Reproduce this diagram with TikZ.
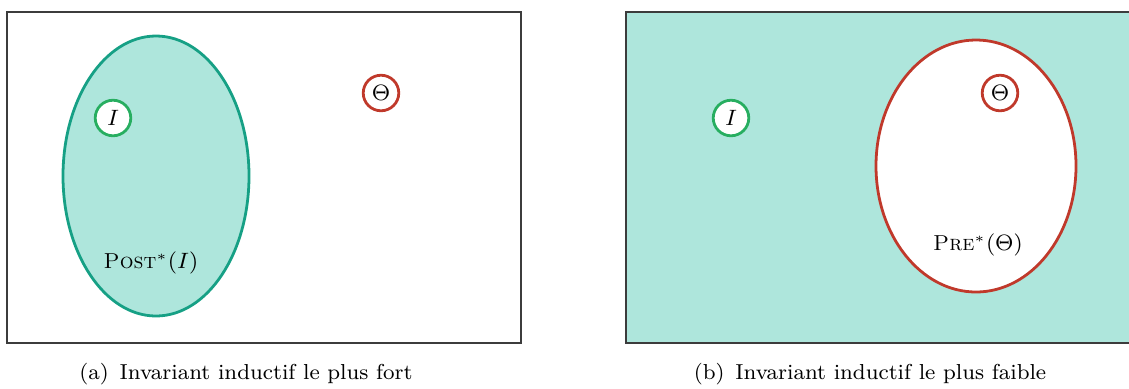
\documentclass[tikz,border=0pt]{standalone}
\definecolor{tealfill}{RGB}{174,230,220}
\definecolor{tealline}{RGB}{22,160,133}
\definecolor{greenline}{RGB}{39,174,96}
\definecolor{redline}{RGB}{192,57,43}
\definecolor{boxline}{RGB}{60,60,60}
\tikzset{
  txt/.style={font=\fontsize{7.8}{9.5}\selectfont},
  setbox/.style={draw=boxline, line width=0.5pt},
  egg/.style={line width=1pt},
  elem/.style={circle, line width=1pt, fill=white, minimum size=12.8pt, inner sep=0pt, font=\fontsize{8.2}{10}\selectfont},
}
\begin{document}
\begin{tikzpicture}[x=0.36pt, y=-0.36pt]
\useasboundingbox (0,0) rectangle (1129,388);
% ---------- (a) ----------
\draw[setbox, fill=white] (7,12) rectangle (521,343);
\draw[egg, draw=tealline, fill=tealfill] (156,176) ellipse [x radius=93, y radius=140];
\node[elem, draw=greenline] (Ia) at (113,118) {$I$};
\node[elem, draw=redline] (Ta) at (381,93) {$\Theta$};
\node[txt] (posta) at (151,263) {\textsc{Post}$^*(I)$};
\node[txt] (capa) at (246,374) {(a)\enspace Invariant inductif le plus fort};
% ---------- (b) ----------
\fill[tealfill] (626,12) rectangle (1129,343);
\draw[setbox] (1129,12) -- (626,12) -- (626,343) -- (1129,343);
\draw[egg, draw=redline, fill=white] (976,166) ellipse [x radius=100, y radius=126];
\node[elem, draw=greenline] (Ib) at (731,118) {$I$};
\node[elem, draw=redline] (Tb) at (1000,93) {$\Theta$};
\node[txt] (preb) at (978,245) {\textsc{Pre}$^*(\Theta)$};
\node[txt] (capb) at (870,374) {(b)\enspace Invariant inductif le plus faible};
\end{tikzpicture}
\end{document}
